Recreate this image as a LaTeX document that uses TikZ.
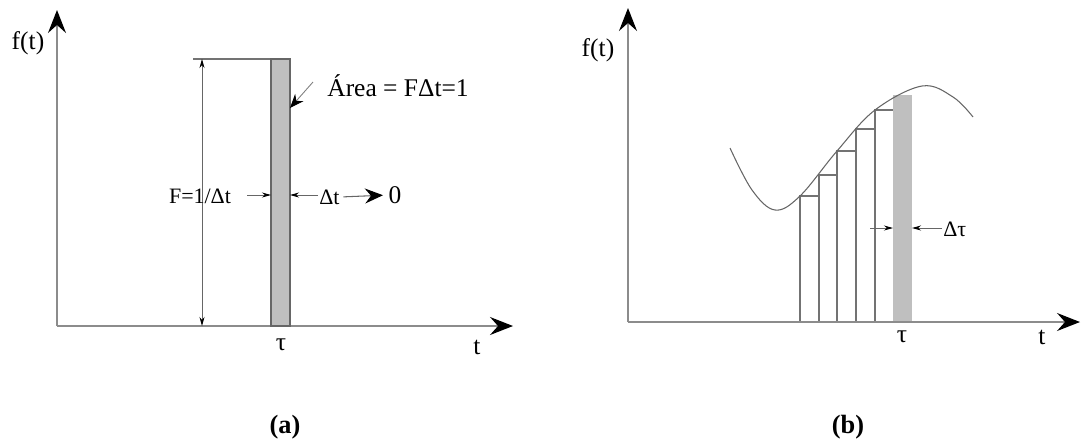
\documentclass[tikz,border=0pt]{standalone}
\usepackage{fontspec}
\setmainfont{Liberation Serif}
\usetikzlibrary{arrows.meta}
\tikzset{
  eixo/.style={draw=black!45,line width=0.8pt,-{Stealth[length=4.6mm,width=3.6mm,inset=1.6mm,color=black]}},
  cota/.style={draw=black!60,line width=0.5pt,-{Stealth[length=1.8mm,width=1mm,color=black]}},
  cotadupla/.style={draw=black!60,line width=0.5pt,{Stealth[length=1.8mm,width=1mm,color=black]}-{Stealth[length=1.8mm,width=1mm,color=black]}},
  setalonga/.style={draw=black!60,line width=0.6pt,-{Stealth[length=3.6mm,width=3mm,inset=1.2mm,color=black]}},
  setaarea/.style={draw=black!50,line width=0.5pt,-{Stealth[length=2.8mm,width=2.2mm,inset=0.9mm,color=black]}},
  barra/.style={draw=black!60,fill=black!25,line width=0.6pt},
  grade/.style={draw=black!55,fill=white,line width=0.6pt},
  curva/.style={draw=black!60,line width=0.6pt},
  rotulo/.style={font=\fontsize{14.5}{16}\selectfont,inner sep=0pt},
  rotulop/.style={font=\fontsize{12.5}{14}\selectfont,inner sep=0pt},
  legenda/.style={font=\fontsize{15}{17}\selectfont\bfseries,inner sep=0pt},
}
\begin{document}
\begin{tikzpicture}[x=0.2mm,y=-0.2mm]
  \useasboundingbox (0,0) rectangle (1081,443);
  \begin{scope}
    \coordinate (Oa) at (57,326); \coordinate (Ya) at (57,10); \coordinate (Xa) at (513,326);
    \draw[eixo] (Oa) -- (Ya); \draw[eixo] (Oa) -- (Xa);
    \draw[grade] (193,59) -- (271,59);
    \draw[barra] (271,59) rectangle (290,326);
    \coordinate (cs) at (202,59); \coordinate (ci) at (202,326);
    \draw[cotadupla] (cs) -- (ci);
    \node[rotulop] (F) at (200,196) {F=1/Δt};
    \coordinate (pe) at (247,195); \coordinate (be) at (271,195);
    \coordinate (pd) at (318,195); \coordinate (bd) at (290,195);
    \draw[cota] (pe) -- (be); \draw[cota] (pd) -- (bd);
    \node[rotulop,anchor=west] (dta) at (319,197) {Δt};
    \node[rotulo] (zero) at (395,195) {0};
    \draw[setalonga,shorten <=2pt,shorten >=3pt] (dta.east) -- (zero.west);
    \node[rotulo,anchor=west] (area) at (327,86) {Área = FΔt=1};
    \coordinate (ia) at (313,82); \coordinate (pa) at (290,108);
    \draw[setaarea] (ia) -- (pa);
    \node[rotulo] (fa) at (28,43) {f(t)};
    \node[rotulo] (ta) at (477,347) {t};
    \node[rotulo] (taua) at (281,345) {τ};
    \node[legenda] (la) at (285,427) {(a)};
  \end{scope}
  \begin{scope}
    \coordinate (Ob) at (628,322); \coordinate (Yb) at (628,8); \coordinate (Xb) at (1080,322);
    \foreach \x/\h in {800/196,819/175,837/151,856/129,875/110}
      \draw[grade] (\x,\h) rectangle ++(18.5,{322-\h});
    \fill[black!25] (893,95) rectangle (912,322);
    \draw[curva] plot[smooth,tension=0.6] coordinates {(730,148) (752,190) (775,210) (800,196)
      (837,151) (875,110) (922,86) (953,97) (973,117)};
    \draw[eixo] (Ob) -- (Yb); \draw[eixo] (Ob) -- (Xb);
    \coordinate (qe) at (870,228); \coordinate (ge) at (893,228);
    \coordinate (qd) at (942,228); \coordinate (gd) at (912,228);
    \draw[cota] (qe) -- (ge); \draw[cota] (qd) -- (gd);
    \node[rotulop,anchor=west] (dtau) at (943,229) {Δτ};
    \node[rotulo] (fb) at (598,50) {f(t)};
    \node[rotulo] (tb) at (1042,337) {t};
    \node[rotulo] (taub) at (902,337) {τ};
    \node[legenda] (lb) at (848,427) {(b)};
  \end{scope}
\end{tikzpicture}
\end{document}
